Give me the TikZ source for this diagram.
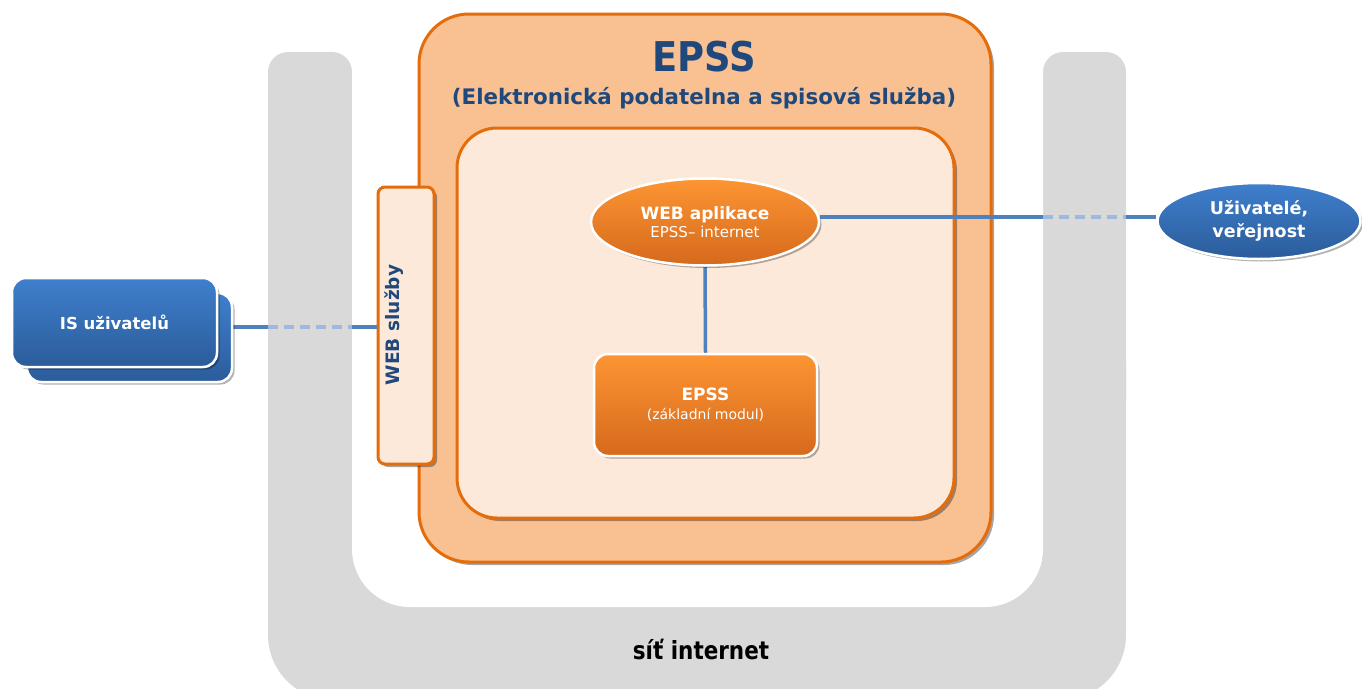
\documentclass[tikz,border=0pt]{standalone}
\usepackage{fontspec}
\setmainfont{DejaVu Sans}
\newfontfamily\condfont[FakeStretch=0.9]{DejaVu Sans}
\newfontfamily\netfont[FakeStretch=0.86]{DejaVu Sans}
\usetikzlibrary{shadows,shapes.geometric,calc}
\definecolor{grayc}{HTML}{D9D9D9}
\definecolor{orfill}{HTML}{F9C192}
\definecolor{orinner}{HTML}{FDE9D9}
\definecolor{orline}{HTML}{E46C0A}
\definecolor{darkblue}{HTML}{1F497D}
\definecolor{linec}{HTML}{4F81BD}
\definecolor{linelight}{HTML}{9DB9DD}
\definecolor{bluetop}{HTML}{3F7FCD}
\definecolor{bluebot}{HTML}{2B5C9A}
\definecolor{ortop}{HTML}{FC9533}
\definecolor{orbot}{HTML}{D6691C}
\pgfdeclarelayer{back}
\pgfdeclarelayer{mid}
\pgfsetlayers{back,mid,main}
\begin{document}
\begin{tikzpicture}[x=1pt,y=-1pt,
  shade/.style={drop shadow={shadow xshift=3pt,shadow yshift=-3pt,opacity=0.35,fill=black}},
  container/.style={draw=orline,line width=3pt,inner sep=0pt,shade},
  outerbox/.style={container,fill=orfill,minimum width=572pt,minimum height=548pt,rounded corners=50pt},
  innerbox/.style={container,fill=orinner,minimum width=497pt,minimum height=390pt,rounded corners=40pt},
  wsbox/.style={container,fill=orinner,minimum width=56pt,minimum height=277pt,rounded corners=7pt},
  titletext/.style={text=darkblue,font=\condfont\bfseries\fontsize{41}{44}\selectfont},
  subtext/.style={text=darkblue,font=\bfseries\fontsize{21.4}{24}\selectfont},
  wstext/.style={text=darkblue,font=\bfseries\fontsize{18.5}{21}\selectfont,rotate=90},
  node3d/.style={draw=white,line width=2.5pt,text=white,inner sep=0pt,align=center,
    drop shadow={shadow xshift=2.5pt,shadow yshift=-2.5pt,opacity=0.3,fill=black}},
  bluebox/.style={node3d,top color=bluetop,bottom color=bluebot,rounded corners=14pt,
    minimum width=205pt,minimum height=89pt,font=\bfseries\fontsize{16.5}{19}\selectfont},
  blueell/.style={node3d,ellipse,top color=bluetop,bottom color=bluebot,
    minimum width=203pt,minimum height=76pt,font=\bfseries\fontsize{17.5}{23}\selectfont},
  orbox/.style={node3d,top color=ortop,bottom color=orbot,rounded corners=14pt,
    minimum width=223pt,minimum height=102pt,font=\fontsize{14}{19}\selectfont},
  orell/.style={node3d,ellipse,top color=ortop,bottom color=orbot,
    minimum width=228pt,minimum height=87pt,font=\fontsize{15}{18}\selectfont},
  conn/.style={draw=linec,line width=3.5pt},
  conndash/.style={draw=linelight,line width=3.5pt,dash pattern=on 10pt off 6pt},
  nettext/.style={text=black,font=\netfont\bfseries\fontsize{25}{27}\selectfont}
]
\useasboundingbox (0,0) rectangle (1362,688);
\begin{pgfonlayer}{back}
  % grey network U
  \fill[grayc,rounded corners=20pt] (268,52) rectangle (352,420);
  \fill[grayc,rounded corners=20pt] (1043,52) rectangle (1126,420);
  \fill[grayc,rounded corners=65pt] (268,300) rectangle (1126,700);
  \fill[white,rounded corners=58pt] (352,-10) rectangle (1043,607);
  % EPSS containers
  \node[outerbox] (epss) at (705,288) {};
  \node[innerbox] (core) at (705.5,323) {};
  \node[wsbox] (ws) at (406,325.5) {};
  \node[titletext] (title) at (704,57) {EPSS};
  \node[subtext] (subtitle) at (704,98) {(Elektronická podatelna a spisová služba)};
  \node[wstext] (wslabel) at (394,325) {WEB služby};
\end{pgfonlayer}

\node[bluebox] (isb) at (129.5,337.5) {};
\node[bluebox] (is) at (114.5,322.5) {IS uživatelů};
\node[orell] (wa) at (705,222) {{\bfseries\fontsize{17}{18}\selectfont WEB aplikace}\\EPSS– internet};
\node[orbox] (ep) at (705.5,405) {{\bfseries\fontsize{17}{19}\selectfont EPSS}\\(základní modul)};
\node[blueell] (uz) at (1259,221) {Uživatelé,\\veřejnost};
\node[nettext] (net) at (701,649) {síť internet};

\coordinate (wl1) at (268,327);
\coordinate (wl2) at (352,327);
\coordinate (wr1) at (1043,217);
\coordinate (wr2) at (1126,217);

\begin{pgfonlayer}{mid}
  \draw[conn] (isb.east |- wl1) -- (wl1);
  \draw[conndash] (wl1) -- (wl2);
  \draw[conn] (wl2) -- (ws.west |- wl2);
  \draw[conn] (wa.east |- wr1) -- (wr1);
  \draw[conndash] (wr1) -- (wr2);
  \draw[conn] (wr2) -- (uz.west |- wr2);
  \draw[conn] (wa.south) -- (ep.north);
\end{pgfonlayer}
\end{tikzpicture}
\end{document}
